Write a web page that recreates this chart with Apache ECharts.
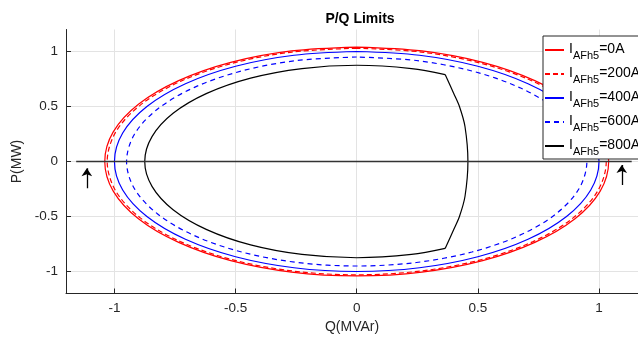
<!DOCTYPE html>
<html>
<head>
<meta charset="utf-8">
<script src="https://cdn.jsdelivr.net/npm/echarts@6/dist/echarts.min.js"></script>
<style>
  html, body { margin: 0; padding: 0; background: #fff; }
  #charts { width: 638px; height: 340px; }
</style>
</head>
<body>
<div id="charts"></div>
<script>
// tick values
const xTicks = [-1, -0.5, 0, 0.5, 1];
const yTicks = [-1, -0.5, 0, 0.5, 1];

// legend names (I_AFh5 = ...)
const names = ['0A', '200A', '400A', '600A', '800A'];

// P/Q limit curves, [Q, P] points (start at the top)
const lim0A = [
    [0, 1.04], [-0.269, 1.005], [-0.52, 0.901], [-0.735, 0.735], [-0.901, 0.52], [-1.005, 0.269],
    [-1.04, 0], [-1.005, -0.269], [-0.901, -0.52], [-0.735, -0.735], [-0.52, -0.901], [-0.269, -1.005],
    [0, -1.04], [0.269, -1.005], [0.52, -0.901], [0.735, -0.735], [0.901, -0.52], [1.005, -0.269],
    [1.04, 0], [1.005, 0.269], [0.901, 0.52], [0.735, 0.735], [0.52, 0.901], [0.269, 1.005], [0, 1.04]
];
const lim200A = [
    [0, 1.03], [-0.267, 0.995], [-0.515, 0.892], [-0.728, 0.728], [-0.892, 0.515], [-0.995, 0.267],
    [-1.03, 0], [-0.995, -0.267], [-0.892, -0.515], [-0.728, -0.728], [-0.515, -0.892], [-0.267, -0.995],
    [0, -1.03], [0.267, -0.995], [0.515, -0.892], [0.728, -0.728], [0.892, -0.515], [0.995, -0.267],
    [1.03, 0], [0.995, 0.267], [0.892, 0.515], [0.728, 0.728], [0.515, 0.892], [0.267, 0.995], [0, 1.03]
];
const lim400A = [
    [0, 1.0], [-0.259, 0.966], [-0.5, 0.866], [-0.707, 0.707], [-0.866, 0.5], [-0.966, 0.259],
    [-1.0, 0], [-0.966, -0.259], [-0.866, -0.5], [-0.707, -0.707], [-0.5, -0.866], [-0.259, -0.966],
    [0, -1.0], [0.259, -0.966], [0.5, -0.866], [0.707, -0.707], [0.866, -0.5], [0.966, -0.259],
    [1.0, 0], [0.966, 0.259], [0.866, 0.5], [0.707, 0.707], [0.5, 0.866], [0.259, 0.966], [0, 1.0]
];
const lim600A = [
    [0, 0.95], [-0.246, 0.918], [-0.475, 0.823], [-0.672, 0.672], [-0.823, 0.475], [-0.918, 0.246],
    [-0.95, 0], [-0.918, -0.246], [-0.823, -0.475], [-0.672, -0.672], [-0.475, -0.823], [-0.246, -0.918],
    [0, -0.95], [0.246, -0.918], [0.475, -0.823], [0.672, -0.672], [0.823, -0.475], [0.918, -0.246],
    [0.95, 0], [0.918, 0.246], [0.823, 0.475], [0.672, 0.672], [0.475, 0.823], [0.246, 0.918], [0, 0.95]
];
// 800A: current limit arc + voltage limit on the right side
const lim800Arc = [
    [0.365, 0.79], [0.226, 0.845], [0, 0.875], [-0.226, 0.845], [-0.438, 0.758], [-0.619, 0.619],
    [-0.758, 0.438], [-0.845, 0.226], [-0.875, 0], [-0.845, -0.226], [-0.758, -0.438], [-0.619, -0.619],
    [-0.438, -0.758], [-0.226, -0.845], [0, -0.875], [0.226, -0.845], [0.365, -0.79]
];
const lim800Right = [
    [0.365, 0.79], [0.40, 0.62], [0.424, 0.5], [0.447, 0.316], [0.459, 0],
    [0.447, -0.316], [0.424, -0.5], [0.40, -0.62], [0.365, -0.79]
];

// Q axis line drawn in the plot
const zeroLine = [[-1.158, 0], [1.135, 0]];
// arrows: [tail, tip]
const arrows = [
    [[-1.114, -0.244], [-1.114, -0.062]],
    [[1.094, -0.214], [1.094, -0.032]]
];

const FONT = '"Liberation Sans", Arial, sans-serif';
const AX = '#262626';

const chartDom = document.getElementById('charts');
const myChart = echarts.init(chartDom, null, { renderer: 'canvas' });

const curve = (name, data, color, dash) => ({
    name: name,
    type: 'line',
    data: data,
    symbol: 'none',
    smooth: 0.33,
    lineStyle: { color: color, width: 1.2, type: dash || 'solid' },
    itemStyle: { color: color },
    z: 3
});

const option = {
    animation: false,
    title: {
        text: 'P/Q Limits',
        left: 355,
        top: 7,
        textAlign: 'center',
        textStyle: { fontFamily: FONT, fontSize: 14, fontWeight: 'bold', fontStyle: 'normal', color: '#000' }
    },
    grid: {
        left: 66,
        top: 29.5,
        right: 0,
        bottom: 46.5
    },
    legend: {
        data: names,
        orient: 'vertical',
        left: 543,
        top: 36,
        itemWidth: 19,
        itemHeight: 10,
        itemGap: 5,
        padding: [6, 10, 2, 1],
        backgroundColor: '#fff',
        borderColor: AX,
        borderWidth: 1,
        borderRadius: 0,
        itemStyle: { opacity: 0 },
        formatter: function (name) {
            return '{a|I}{b|AFh5}{c|=' + name + '}';
        },
        textStyle: {
            fontFamily: FONT,
            color: '#000',
            rich: {
                a: { fontFamily: FONT, fontSize: 14, lineHeight: 16, verticalAlign: 'top', color: '#000' },
                b: { fontFamily: FONT, fontSize: 11, lineHeight: 12, padding: [8, 0, 0, 0], verticalAlign: 'top', color: '#000' },
                c: { fontFamily: FONT, fontSize: 14, lineHeight: 16, verticalAlign: 'top', color: '#000' }
            }
        }
    },
    xAxis: {
        type: 'value',
        min: -1.2,
        max: 1.161,
        name: 'Q(MVAr)',
        nameLocation: 'middle',
        nameGap: 27,
        nameTextStyle: { fontFamily: FONT, fontSize: 14, color: AX },
        axisLine: { show: true, onZero: false, lineStyle: { color: AX, width: 1 } },
        axisTick: { show: true, inside: true, length: 5, customValues: xTicks, lineStyle: { color: AX } },
        axisLabel: {
            customValues: xTicks,
            fontFamily: FONT,
            fontSize: 13.5,
            color: AX,
            margin: 8
        },
        splitLine: { show: true, lineStyle: { color: '#e3e3e3', width: 1 } }
    },
    yAxis: {
        type: 'value',
        min: -1.2,
        max: 1.2,
        name: 'P(MW)',
        nameLocation: 'middle',
        nameGap: 36,
        nameTextStyle: { fontFamily: FONT, fontSize: 14, color: AX },
        axisLine: { show: true, onZero: false, lineStyle: { color: AX, width: 1 } },
        axisTick: { show: true, inside: true, length: 5, customValues: yTicks, lineStyle: { color: AX } },
        axisLabel: {
            customValues: yTicks,
            fontFamily: FONT,
            fontSize: 13.5,
            color: AX,
            margin: 8
        },
        splitLine: { show: true, lineStyle: { color: '#e3e3e3', width: 1 } }
    },
    series: [
        curve(names[0], lim0A, '#ff0000'),
        curve(names[1], lim200A, '#ff0000', [5, 3]),
        curve(names[2], lim400A, '#0000ff'),
        curve(names[3], lim600A, '#0000ff', [5, 4]),
        curve(names[4], lim800Arc, '#000000'),
        curve(names[4], lim800Right, '#000000'),
        {
            name: 'zero',
            type: 'line',
            data: zeroLine,
            symbol: 'none',
            lineStyle: { color: '#333', width: 1.6 },
            z: 4
        },
        {
            name: 'arrows',
            type: 'lines',
            coordinateSystem: 'cartesian2d',
            data: arrows.map(a => ({ coords: a })),
            symbol: ['none', 'arrow'],
            symbolSize: [0, 8],
            lineStyle: { color: '#000', width: 1.3, opacity: 1 },
            z: 5
        }
    ]
};
myChart.setOption(option);
</script>
</body>
</html>
